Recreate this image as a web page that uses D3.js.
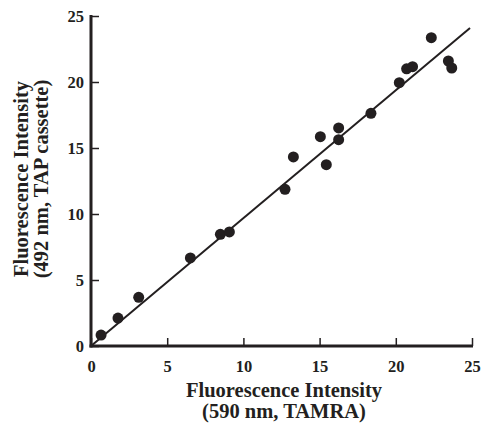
<html>
<head>
<script src="https://cdnjs.cloudflare.com/ajax/libs/d3/7.8.5/d3.min.js"></script>
<style>
  body { margin: 0; background: #fff; }
  text { font-family: "Liberation Serif", "Times New Roman", serif; font-weight: bold; fill: #231f20; }
</style>
</head>
<body>
<svg id="plot" width="482" height="423"></svg>
<script>

	// measured points (x = 590 nm TAMRA, y = 492 nm TAP cassette)
	var xValues = [0.66, 1.77, 3.13, 6.52, 8.49, 9.08, 12.73, 13.28, 15.44, 15.05, 16.25, 16.25, 18.37, 20.23, 20.71, 21.1, 22.33, 23.45, 23.67]
	var yValues = [0.83, 2.12, 3.69, 6.67, 8.46, 8.64, 11.87, 14.32, 13.74, 15.86, 16.52, 15.63, 17.63, 19.95, 21.0, 21.16, 23.36, 21.59, 21.06]

	// fitted line end points
	var fitX = [0, 24.87]
	var fitY = [0, 24.09]

	var xTicks = [0, 5, 10, 15, 20, 25]
	var yTicks = [0, 5, 10, 15, 20, 25]

	var ink = "#231f20"
	var svg = d3.select("#plot")

	var x = d3.scaleLinear().domain([0, 25]).range([91, 472])
	var y = d3.scaleLinear().domain([0, 25]).range([346, 16])

	// x axis, ticks pointing inward
	var xAxis = svg.append("g")
		.attr("transform", "translate(0," + y(0) + ")")
		.call(d3.axisBottom(x).tickValues(xTicks).tickSize(-8).tickPadding(14))
	xAxis.select(".domain").remove()
	xAxis.append("line")
		.attr("x1", x(0) - 1.5).attr("x2", x(25) + 1)
		.attr("stroke", ink).attr("stroke-width", 3)
	xAxis.selectAll(".tick line").attr("stroke", ink).attr("stroke-width", 1.5)
	xAxis.selectAll(".tick text")
		.attr("font-size", 16.5).attr("font-family", "Liberation Serif").attr("font-weight", "bold")
		.attr("fill", ink)

	// y axis, ticks pointing inward
	var yAxis = svg.append("g")
		.attr("transform", "translate(" + x(0) + ",0)")
		.call(d3.axisLeft(y).tickValues(yTicks).tickSize(-8).tickPadding(7))
	yAxis.select(".domain").remove()
	yAxis.append("line")
		.attr("y1", y(25) - 1).attr("y2", y(0) + 1.5)
		.attr("stroke", ink).attr("stroke-width", 3)
	yAxis.selectAll(".tick line").attr("stroke", ink).attr("stroke-width", 1.5)
	yAxis.selectAll(".tick text")
		.attr("font-size", 16.5).attr("font-family", "Liberation Serif").attr("font-weight", "bold")
		.attr("fill", ink)

	// fit line
	svg.append("line")
		.attr("x1", x(fitX[0])).attr("y1", y(fitY[0]))
		.attr("x2", x(fitX[1])).attr("y2", y(fitY[1]))
		.attr("stroke", ink).attr("stroke-width", 2)

	// points
	svg.selectAll("circle.pt")
		.data(xValues.map((v, i) => [v, yValues[i]]))
		.enter().append("circle")
		.attr("class", "pt")
		.attr("cx", d => x(d[0]))
		.attr("cy", d => y(d[1]))
		.attr("r", 5.5)
		.attr("fill", ink)

	// axis titles
	var xt = svg.append("text").attr("text-anchor", "middle").attr("font-size", 20.5)
	xt.append("tspan").attr("x", 284).attr("y", 397).text("Fluorescence Intensity")
	xt.append("tspan").attr("x", 284).attr("y", 418).text("(590 nm, TAMRA)")

	var yt = svg.append("text").attr("text-anchor", "middle").attr("font-size", 20.5)
		.attr("transform", "translate(0,179) rotate(-90)")
	yt.append("tspan").attr("x", 0).attr("y", 28).text("Fluorescence Intensity")
	yt.append("tspan").attr("x", 0).attr("y", 48).text("(492 nm, TAP cassette)")

</script>
</body>
</html>
